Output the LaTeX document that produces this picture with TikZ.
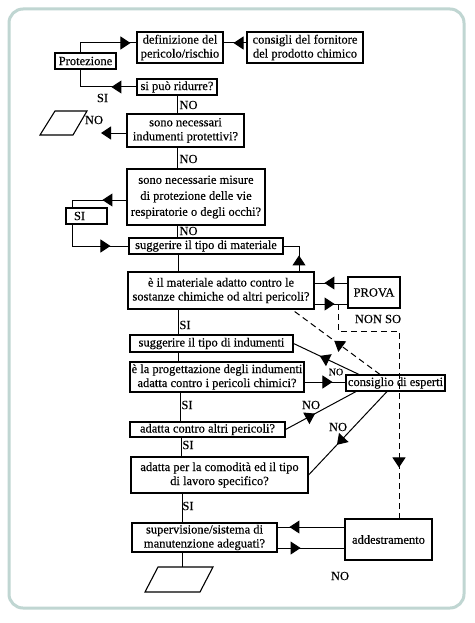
\documentclass[tikz,border=0pt]{standalone}
\usepackage{fontspec}
\setmainfont{Liberation Serif}[FakeBold=0.35]
\usetikzlibrary{arrows.meta,decorations.markings}
\definecolor{framec}{RGB}{192,214,210}
\tikzset{
 box/.style={draw, line width=1.1pt, inner sep=1pt, align=center, font=\fontsize{12.5}{14}\selectfont},
 lab/.style={inner sep=0pt, font=\fontsize{12.5}{14}\selectfont},
 ln/.style={line width=1pt},
 dsh/.style={line width=1pt, dash pattern=on 6pt off 4pt},
 amk/.style={postaction={decorate}, decoration={markings, mark=at position #1 with {\arrow{Triangle[length=10pt,width=13pt]}}}},
}
\begin{document}
\begin{tikzpicture}[x=1pt,y=-1pt]
\useasboundingbox (0,0) rectangle (474,623);
\fill[white] (0,0) rectangle (474,623);
\draw[framec, line width=3pt, rounded corners=14pt] (9,9) rectangle (464,608);

% helper coordinates
\coordinate (xp) at (80,0);
\coordinate (ya) at (0,43);
\coordinate (xs1) at (177,0);
\coordinate (xs2) at (178,0);
\coordinate (xs3) at (180,0);
\coordinate (xs4) at (181,0);
\coordinate (xs5) at (182,0);
\coordinate (xsi) at (72,0);
\coordinate (yv) at (0,200);
\coordinate (xm) at (299,0);
\coordinate (yp1) at (0,283);
\coordinate (yp2) at (0,304);
\coordinate (dsa) at (338,304);
\coordinate (dc1) at (338,331);
\coordinate (xd) at (399,0);
\coordinate (yq) at (0,382);
\coordinate (xe1) at (359,0);
\coordinate (xe2) at (380,0);
\coordinate (xe3) at (292,0);
\coordinate (xe4) at (356,0);
\coordinate (xe5) at (387,0);
\coordinate (yu1) at (0,527);
\coordinate (yu2) at (0,548);
\coordinate (nend) at (101,133);

% boxes
\node[box, minimum width=61pt, minimum height=16pt] (prot) at (85.5,61) {Protezione};
\node[box, minimum width=86pt, minimum height=31pt] (def) at (180,47.5) {definizione del\\pericolo/rischio};
\node[box, minimum width=116pt, minimum height=31pt] (cons) at (305,47.5) {consigli del fornitore\\del prodotto chimico};
\node[box, minimum width=80pt, minimum height=16pt] (rid) at (177,87) {si può ridurre?};
\node[box, minimum width=117pt, minimum height=33pt] (nec) at (185.5,130.5) {sono necessari\\indumenti protettivi?};
\node[box, minimum width=138pt, minimum height=56pt, font=\fontsize{12.5}{16}\selectfont] (vie) at (196,197) {sono necessarie misure\\di protezione delle vie\\respiratorie o degli occhi?};
\node[box, minimum width=41pt, minimum height=16pt, text width=25pt, align=left] (si) at (86.5,216) {SI};
\node[box, minimum width=154pt, minimum height=16pt] (smat) at (206,246) {suggerire il tipo di materiale};
\node[box, minimum width=186pt, minimum height=37pt] (mat) at (221,290.5) {è il materiale adatto contro le\\sostanze chimiche od altri pericoli?};
\node[box, minimum width=52pt, minimum height=31pt] (prova) at (374,292.5) {PROVA};
\node[box, minimum width=163pt, minimum height=17pt] (sind) at (211.5,343.5) {suggerire il tipo di indumenti};
\node[box, minimum width=174pt, minimum height=30pt] (prog) at (217,377) {è la progettazione degli indumenti\\adatta contro i pericoli chimici?};
\node[box, minimum width=99pt, minimum height=16pt] (esp) at (395.5,383) {consiglio di esperti};
\node[box, minimum width=155pt, minimum height=15pt] (altri) at (207.5,429.5) {adatta contro altri pericoli?};
\node[box, minimum width=177pt, minimum height=36pt] (comod) at (219.5,475) {adatta per la comodità ed il tipo\\di lavoro specifico?};
\node[box, minimum width=145pt, minimum height=29pt] (sup) at (204.5,537.5) {supervisione/sistema di\\manutenzione adeguati?};
\node[box, minimum width=87pt, minimum height=41pt] (add) at (388.5,539.5) {addestramento};

% parallelograms
\draw[line width=1.1pt] (55,111) -- (87,111) -- (73,135) -- (40,135) -- cycle;
\coordinate (pb) at (182,567);
\draw[line width=1.1pt] (158,567) -- (213,567) -- (200,592) -- (145,592) -- cycle;

% connectors
\draw[ln, amk=-6pt] (prot.north -| xp) |- (def.west |- ya);
\draw[ln, amk=-10pt] (cons.west |- ya) -- (def.east |- ya);
\draw[ln, amk=25pt] (rid.west) -| (prot.south -| xp);
\draw[ln] (rid.south -| xs1) -- (nec.north -| xs1);
\draw[ln, -{Triangle[length=10pt,width=13pt]}] (nec.west |- nend) -- (nend);
\draw[ln] (nec.south -| xs1) -- (vie.north -| xs1);
\draw[ln, amk=24pt] (vie.west |- yv) -| (si.north -| xsi);
\draw[ln, amk=-18pt] (si.south -| xsi) |- (smat.west);
\draw[ln] (vie.south -| xs1) -- (smat.north -| xs1);
\draw[ln, amk=16pt] (mat.north -| xm) |- (smat.east);
\draw[ln] (smat.south -| xs2) -- (mat.north -| xs2);
\draw[ln, amk=23pt] (prova.west |- yp1) -- (mat.east |- yp1);
\draw[ln, amk=20pt] (mat.east |- yp2) -- (prova.west |- yp2);
\draw[dsh, amk=-51pt] (dsa) -- (dc1) -| (add.north -| xd);
\draw[ln] (mat.south -| xs2) -- (sind.north -| xs2);
\draw[ln] (sind.south -| xs2) -- (prog.north -| xs2);
\draw[ln, amk=-13pt] (prog.east |- yq) -- (esp.west |- yq);
\draw[ln, amk=0.6] (esp.north -| xe1) -- (sind.east);
\draw[dsh, amk=0.52] (esp.north -| xe2) -- (mat.south -| xe3);
\draw[ln, amk=0.42] (altri.east) -- (esp.south -| xe4);
\draw[ln, amk=0.64] (esp.south -| xe5) -- (comod.east);
\draw[ln] (prog.south -| xs3) -- (altri.north -| xs3);
\draw[ln] (altri.south -| xs4) -- (comod.north -| xs4);
\draw[ln] (comod.south -| xs5) -- (sup.north -| xs5);
\draw[ln] (sup.south -| xs5) -- (pb);
\draw[ln, amk=55pt] (add.west |- yu1) -- (sup.east |- yu1);
\draw[ln, amk=23pt] (sup.east |- yu2) -- (add.west |- yu2);

% labels
\node[lab] (l1) at (102.5,98) {SI};
\node[lab] (l2) at (188.5,105) {NO};
\node[lab] (l3) at (94,120) {NO};
\node[lab] (l4) at (188.5,159) {NO};
\node[lab] (l5) at (188.5,231) {NO};
\node[lab] (l6) at (185,325) {SI};
\node[lab] (l7) at (378,319) {NON SO};
\node[lab, font=\fontsize{10}{12}\selectfont] (l8) at (336,372) {NO};
\node[lab] (l9) at (187,405) {SI};
\node[lab] (l10) at (311,405) {NO};
\node[lab] (l11) at (338,427) {NO};
\node[lab] (l12) at (188,445) {SI};
\node[lab] (l13) at (188,506) {SI};
\node[lab] (l14) at (340,576) {NO};
\end{tikzpicture}
\end{document}
